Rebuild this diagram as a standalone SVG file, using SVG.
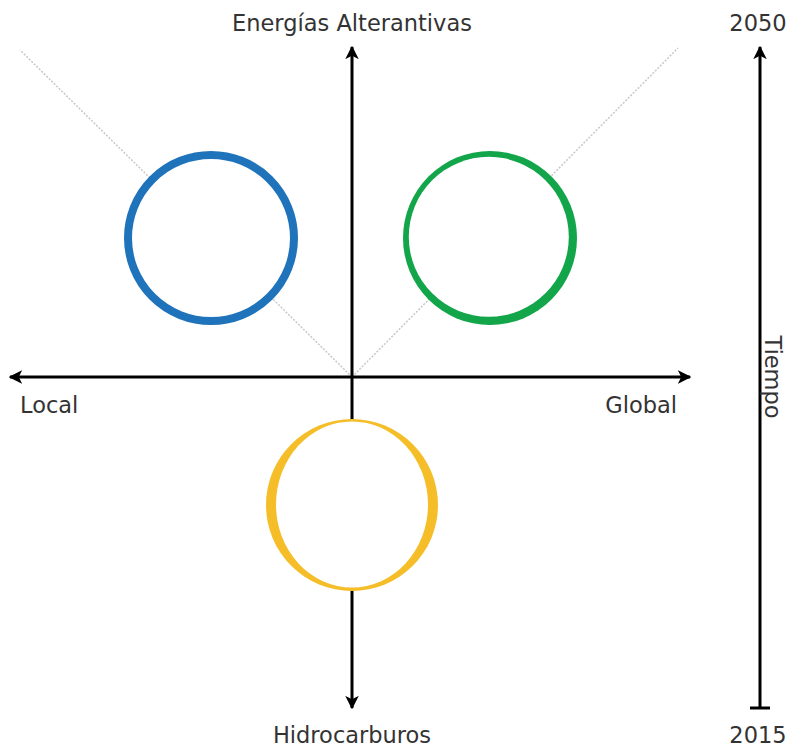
<svg xmlns="http://www.w3.org/2000/svg" width="786" height="749" viewBox="0 0 786 749">
<style>
.lbl{font-family:"DejaVu Sans","Liberation Sans",sans-serif;font-size:22.5px;fill:#333333}
.ax{stroke:#000;stroke-width:3;fill:none}
.guide{stroke:#c8c8c8;stroke-width:1.5;stroke-dasharray:2 1.5;fill:none}
</style>
<defs>
<marker id="ah" viewBox="0 0 10 10" refX="9" refY="5" markerWidth="4.5" markerHeight="4.5" markerUnits="strokeWidth" orient="auto">
<path d="M0,0 L10,5 L0,10 L2.5,5 Z" fill="#000"/>
</marker>
</defs>
<rect width="786" height="749" fill="#fff"/>
<g id="connectors">
<line class="guide" x1="352" y1="377" x2="20" y2="50"/>
<line class="guide" x1="352" y1="377" x2="678" y2="48"/>
<line class="ax" x1="352" y1="377" x2="352" y2="47" marker-end="url(#ah)"/>
<line class="ax" x1="352" y1="377" x2="352" y2="708" marker-end="url(#ah)"/>
<line class="ax" x1="352" y1="377" x2="10" y2="377" marker-end="url(#ah)"/>
<line class="ax" x1="352" y1="377" x2="690" y2="377" marker-end="url(#ah)"/>
<line class="ax" x1="760" y1="708" x2="760" y2="47" marker-end="url(#ah)"/>
<line class="ax" x1="750" y1="708" x2="770" y2="708"/>
</g>
<g id="blue">
<circle cx="211" cy="238" r="83" fill="#fff" stroke="#1f73bb" stroke-width="8"/>
</g>
<g id="green">
<circle cx="490" cy="238" r="87" fill="#12a54a"/>
<circle cx="488.8" cy="236.8" r="80" fill="#fff"/>
</g>
<g id="yellow">
<circle cx="352" cy="505" r="86" fill="#f5be29"/>
<ellipse cx="352" cy="504.5" rx="76" ry="83" fill="#fff"/>
</g>
<g id="labels">
<text class="lbl" x="352" y="31" text-anchor="middle">Energías Alterantivas</text>
<text class="lbl" x="352" y="743" text-anchor="middle">Hidrocarburos</text>
<text class="lbl" x="20" y="413">Local</text>
<text class="lbl" x="677" y="413" text-anchor="end">Global</text>
<text class="lbl" x="758" y="31" text-anchor="middle">2050</text>
<text class="lbl" x="758" y="743" text-anchor="middle">2015</text>
<text class="lbl" transform="translate(765,377) rotate(90)" text-anchor="middle">Tiempo</text>
</g>
</svg>
